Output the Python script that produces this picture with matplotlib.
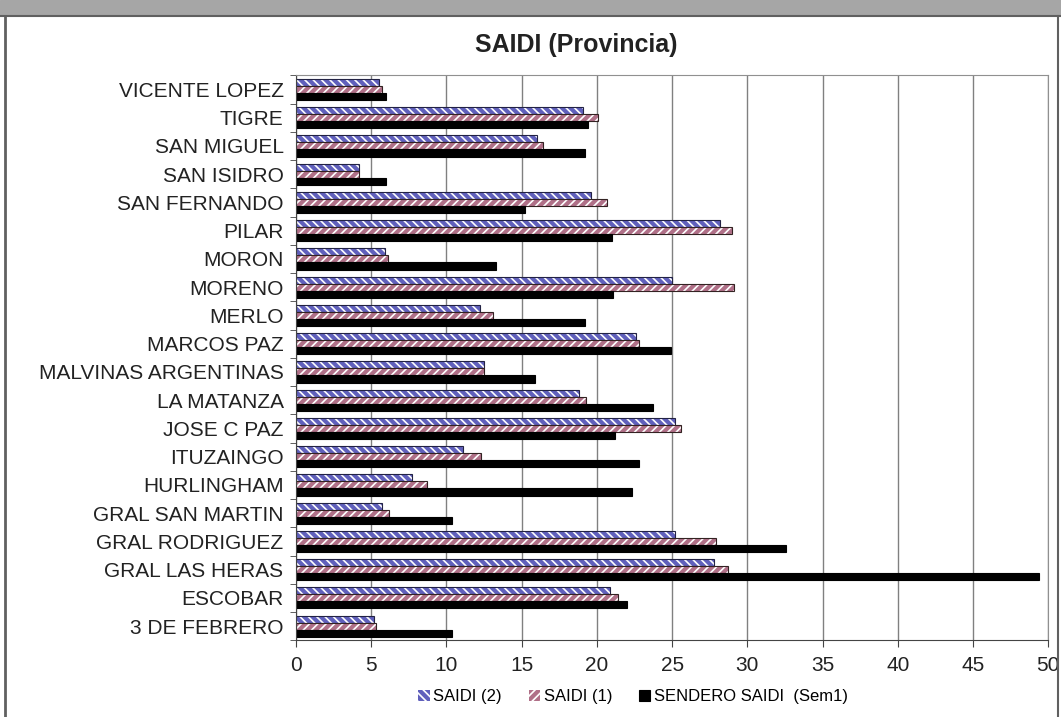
import numpy as np
import matplotlib.pyplot as plt
from matplotlib.patches import Rectangle
from matplotlib.lines import Line2D

plt.rcParams['font.family'] = ['Liberation Sans', 'DejaVu Sans']
plt.rcParams['hatch.linewidth'] = 1.2

# datos (de abajo hacia arriba)
partidos = ['3 DE FEBRERO', 'ESCOBAR', 'GRAL LAS HERAS', 'GRAL RODRIGUEZ', 'GRAL SAN MARTIN',
            'HURLINGHAM', 'ITUZAINGO', 'JOSE C PAZ', 'LA MATANZA', 'MALVINAS ARGENTINAS',
            'MARCOS PAZ', 'MERLO', 'MORENO', 'MORON', 'PILAR', 'SAN FERNANDO',
            'SAN ISIDRO', 'SAN MIGUEL', 'TIGRE', 'VICENTE LOPEZ']
saidi_2 = [5.2, 20.9, 27.8, 25.2, 5.7, 7.7, 11.1, 25.2, 18.8, 12.5,
           22.6, 12.2, 25.0, 5.9, 28.2, 19.6, 4.2, 16.0, 19.1, 5.5]
saidi_1 = [5.3, 21.4, 28.7, 27.9, 6.2, 8.7, 12.3, 25.6, 19.3, 12.5,
           22.8, 13.1, 29.1, 6.1, 29.0, 20.7, 4.2, 16.4, 20.1, 5.7]
sendero = [10.4, 22.0, 49.4, 32.6, 10.4, 22.3, 22.8, 21.2, 23.7, 15.9,
           24.9, 19.2, 21.1, 13.3, 21.0, 15.2, 6.0, 19.2, 19.4, 6.0]
series_names = ['SAIDI (2)', 'SAIDI (1)', 'SENDERO SAIDI  (Sem1)']

fig = plt.figure(figsize=(10.61, 7.17), dpi=100)
ax = fig.add_axes([0.279, 0.107, 0.709, 0.788])

y = np.arange(len(partidos))
h = 0.25

b1 = ax.barh(y + h, saidi_2, height=h, color='#6060bc', edgecolor='white', hatch='\\\\\\\\', lw=0)
ax.barh(y + h, saidi_2, height=h, fill=False, edgecolor='#222244', lw=0.8)
b2 = ax.barh(y, saidi_1, height=h, color='#b07088', edgecolor='white', hatch='////', lw=0)
ax.barh(y, saidi_1, height=h, fill=False, edgecolor='#332222', lw=0.8)
b3 = ax.barh(y - h, sendero, height=h, color='black', edgecolor='black', lw=0.8)

ax.set_xlim(0, 50)
ax.set_ylim(-0.5, len(partidos) - 0.5)
ax.set_xticks(np.arange(0, 51, 5))
ax.set_yticks(y)
ax.set_yticklabels(partidos, fontsize=15, color='#222222')
ax.set_yticks(np.arange(-0.5, len(partidos), 1), minor=True)
ax.tick_params(axis='y', which='major', length=0, pad=9)
ax.tick_params(axis='y', which='minor', length=4, color='#444444')
ax.tick_params(axis='x', labelsize=15, length=5, color='#444444', labelcolor='#222222', pad=6)
ax.xaxis.grid(True, color='#808080', lw=1)
ax.set_axisbelow(True)
for s in ['top', 'right']:
    ax.spines[s].set_color('#909090')
for s in ['left', 'bottom']:
    ax.spines[s].set_color('#444444')

fig.text(576 / 1061, 1 - 45 / 717, 'SAIDI (Provincia)', fontsize=18, fontweight='bold',
         color='#222222', ha='center', va='center')

fig.legend([b1, b2, b3], series_names, loc='center', bbox_to_anchor=(633 / 1061, 0.028), ncol=3,
           frameon=False, fontsize=12, handlelength=0.7, handleheight=0.7,
           handletextpad=0.2, columnspacing=1.6)

# marco estilo Excel
fig.patches.append(Rectangle((0, 1 - 15 / 717), 1, 15 / 717, transform=fig.transFigure,
                             color='#a6a6a6', zorder=0))
fig.add_artist(Line2D([0, 1], [1 - 16 / 717] * 2, transform=fig.transFigure, color='#606060', lw=1.5))
fig.add_artist(Line2D([5 / 1061] * 2, [0, 1 - 16 / 717], transform=fig.transFigure, color='#606060', lw=2))
fig.add_artist(Line2D([1058 / 1061] * 2, [0, 1 - 16 / 717], transform=fig.transFigure, color='#606060', lw=1.5))

fig.savefig('out.png', dpi=100)
